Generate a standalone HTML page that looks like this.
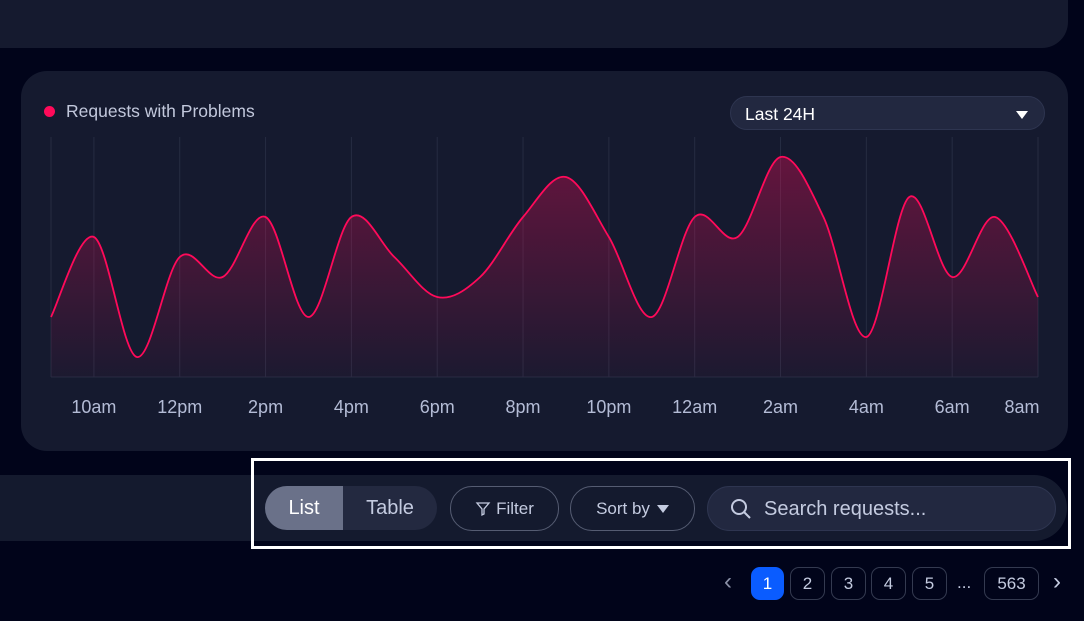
<!DOCTYPE html>
<html><head><meta charset="utf-8"><style>
*{box-sizing:border-box;margin:0;padding:0}
body{width:1084px;height:621px;background:#01041a;font-family:"Liberation Sans",sans-serif;position:relative;overflow:hidden}
.abs{position:absolute}
.topcard{left:-30px;top:-30px;width:1098px;height:78px;background:#151a2f;border-radius:0 0 26px 26px}
.card{left:21px;top:71px;width:1047px;height:380px;background:#151a2f;border-radius:26px}
.strip{left:-30px;top:475px;width:1097px;height:66px;background:#141a2e;border-radius:0 33px 33px 0}
.frame{left:251px;top:458px;width:820px;height:91px;border:3px solid #fff}
.pill{border:1px solid #555c72;border-radius:22px;color:#c4cbe0;font-size:17px;display:flex;align-items:center;justify-content:center}
.pg{top:567px;height:33px;border:1px solid #343a50;border-radius:9px;color:#c4cbe0;font-size:17px;display:flex;align-items:center;justify-content:center}
</style></head><body>
<div class="abs topcard"></div>
<div class="abs card"></div>
<div class="abs" style="left:44px;top:106px;width:11px;height:11px;border-radius:50%;background:#ff0a5a"></div>
<div class="abs" style="left:66px;top:101px;color:#c2c8dc;font-size:17.5px">Requests with Problems</div>
<div class="abs" style="left:730px;top:96px;width:315px;height:34px;background:#222840;border:1px solid #2e3550;border-radius:17px;color:#fff;font-size:17.5px;padding:7px 0 0 14px">Last 24H
<span class="abs" style="right:16px;top:14px;width:0;height:0;border-left:6px solid transparent;border-right:6px solid transparent;border-top:8px solid #fff"></span></div>
<svg class="abs" style="left:0;top:0" width="1084" height="460" id="chart">
<defs><linearGradient id="g" x1="0" y1="0" x2="0" y2="1"><stop offset="0" stop-color="#ff0a5a" stop-opacity="0.34"/><stop offset="1" stop-color="#ff0a5a" stop-opacity="0.03"/></linearGradient></defs>
</svg>
<div class="abs strip"></div>
<div class="abs" style="left:265px;top:486px;width:172px;height:44px;background:#232940;border-radius:22px;overflow:hidden">
<div class="abs" style="left:0;top:0;width:78px;height:44px;background:#6a7189;color:#fff;font-size:20px;display:flex;align-items:center;justify-content:center">List</div>
<div class="abs" style="left:78px;top:0;width:94px;height:44px;color:#c4cbe0;font-size:20px;display:flex;align-items:center;justify-content:center">Table</div></div>
<div class="abs pill" style="left:450px;top:486px;width:109px;height:45px"><svg width="16" height="16" viewBox="0 0 16 16" style="margin-right:5px"><path d="M2 2h12l-5 6v5l-2 1V8z" fill="none" stroke="#c4cbe0" stroke-width="1.3"/></svg>Filter</div>
<div class="abs pill" style="left:570px;top:486px;width:125px;height:45px">Sort by<span style="display:inline-block;margin-left:7px;border-left:6px solid transparent;border-right:6px solid transparent;border-top:8px solid #c4cbe0"></span></div>
<div class="abs" style="left:707px;top:486px;width:349px;height:45px;background:#222840;border:1px solid #2e3550;border-radius:23px;color:#c4cbe0;font-size:20px;padding:11px 0 0 56px">Search requests...
<svg class="abs" style="left:22px;top:11px" width="22" height="22" viewBox="0 0 22 22"><circle cx="9" cy="9" r="7" fill="none" stroke="#c4cbe0" stroke-width="2"/><path d="M14 14l6 6" stroke="#c4cbe0" stroke-width="2"/></svg></div>
<div class="abs frame"></div>
<div class="abs" style="left:724px;top:568px;color:#8a90a6;font-size:24px">‹</div>
<div class="abs pg" style="left:751px;width:33px;background:#0a5cff;border-color:#0a5cff;color:#fff">1</div>
<div class="abs pg" style="left:790px;width:35px">2</div>
<div class="abs pg" style="left:831px;width:35px">3</div>
<div class="abs pg" style="left:871px;width:35px">4</div>
<div class="abs pg" style="left:912px;width:35px">5</div>
<div class="abs" style="left:957px;top:573px;color:#c4cbe0;font-size:17px">...</div>
<div class="abs pg" style="left:984px;width:55px">563</div>
<div class="abs" style="left:1053px;top:568px;color:#c4cbe0;font-size:24px">›</div>
<script>
const values=[3,7,1,6,5,8,3,8,6,4,5,8,10,7,3,8,7,11,8,2,9,5,8,4];
const tickLabels=["10am","12pm","2pm","4pm","6pm","8pm","10pm","12am","2am","4am","6am","8am"];
const yMax=12;
const svg=document.getElementById('chart');const NS='http://www.w3.org/2000/svg';
const x0=51,x1=1038,yB=377,yT=137;
const xs=i=>x0+(x1-x0)*i/(values.length-1);
const ys=v=>yB-(yB-yT)*v/yMax;
function mk(t,a){const e=document.createElementNS(NS,t);for(const k in a)e.setAttribute(k,a[k]);svg.appendChild(e);return e;}
const gl=mk('line',{x1:x0,y1:yT,x2:x0,y2:yB,stroke:'#262c42','stroke-width':1});


const bl=mk('line',{x1:x0,y1:yB,x2:x1,y2:yB,stroke:'#262c42','stroke-width':1});


tickLabels.forEach((l,j)=>{const gx=xs(2*j+1);
const g=mk('line',{x1:gx,y1:yT,x2:gx,y2:yB,stroke:'#262c42','stroke-width':1});


const tx=Math.min(gx,1022);
const t=mk('text',{x:tx,y:413,'text-anchor':'middle',fill:'#b4bcd6','font-size':18,'font-family':'Liberation Sans, sans-serif'});t.textContent=l;

});
const P=values.map((v,i)=>[xs(i),ys(v)]);
let d='M'+P[0][0]+','+P[0][1];
for(let i=0;i<P.length-1;i++){const p0=P[Math.max(0,i-1)],p1=P[i],p2=P[i+1],p3=P[Math.min(P.length-1,i+2)];const k=1/6;
d+=` C${p1[0]+(p2[0]-p0[0])*k},${p1[1]+(p2[1]-p0[1])*k} ${p2[0]-(p3[0]-p1[0])*k},${p2[1]-(p3[1]-p1[1])*k} ${p2[0]},${p2[1]}`;}
const area=mk('path',{d:d+` L${x1},${yB} L${x0},${yB} Z`,fill:'url(#g)'});


const line=mk('path',{d:d,fill:'none',stroke:'#ff0a5a','stroke-width':1.8});


</script>
</body></html>
